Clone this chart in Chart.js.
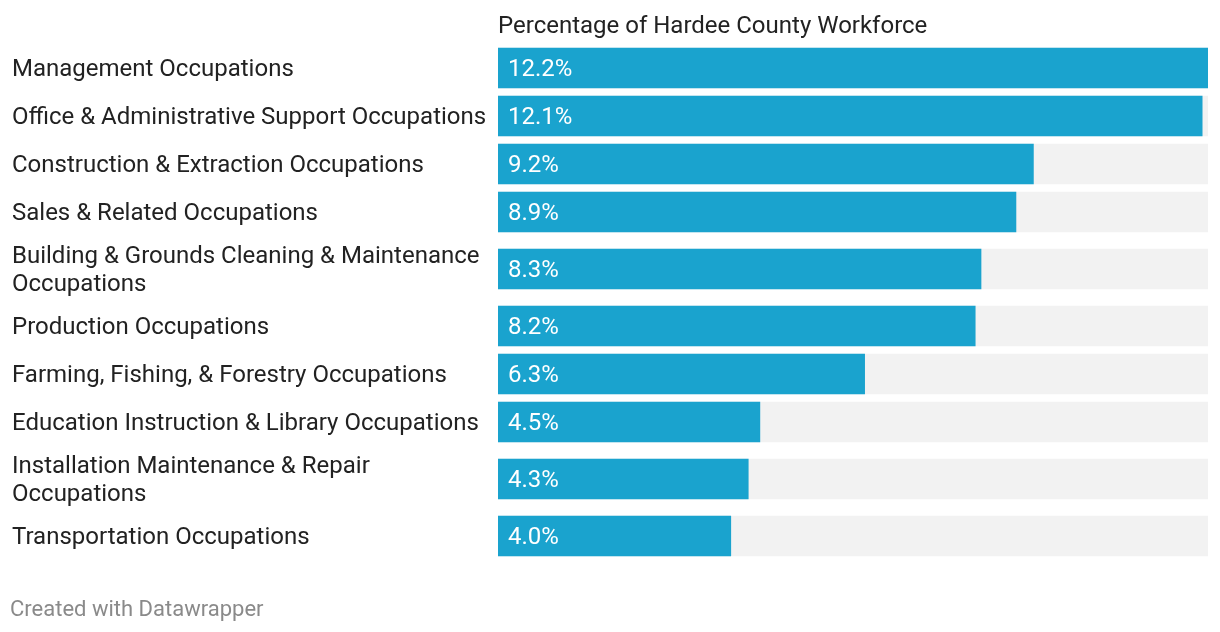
<!DOCTYPE html>
<html>
<head>
<meta charset="utf-8">
<script src="https://cdn.jsdelivr.net/npm/chart.js@4/dist/chart.umd.min.js"></script>
<style>
  html, body { margin: 0; padding: 0; background: #fff; }
  #wrap { position: relative; width: 1220px; height: 632px; }
  #footer { position: absolute; left: 10px; top: 596px; font: 22px Roboto, sans-serif; color: #8a8a8a; }
</style>
</head>
<body>
<div id="wrap">
  <canvas id="c"></canvas>
  <div id="footer">Created with Datawrapper</div>
</div>
<script>
const categories = [
  "Management Occupations",
  "Office & Administrative Support Occupations",
  "Construction & Extraction Occupations",
  "Sales & Related Occupations",
  ["Building & Grounds Cleaning & Maintenance", "Occupations"],
  "Production Occupations",
  "Farming, Fishing, & Forestry Occupations",
  "Education Instruction & Library Occupations",
  ["Installation Maintenance & Repair", "Occupations"],
  "Transportation Occupations"
];
const values = [12.2, 12.1, 9.2, 8.9, 8.3, 8.2, 6.3, 4.5, 4.3, 4.0];
const axisTitle = "Percentage of Hardee County Workforce";

// row slots derived from number of label lines
const lineCount = categories.map(c => Array.isArray(c) ? c.length : 1);
const slots = lineCount.map(n => 48 + (n - 1) * 18);
const centers = [];
let acc = 0;
slots.forEach(s => { centers.push(acc + s / 2); acc += s; });
const total = acc;
const xMax = Math.max(...values);

const valueLabels = {
  id: 'valueLabels',
  afterDatasetsDraw(chart) {
    const ctx = chart.ctx;
    const meta = chart.getDatasetMeta(0);
    ctx.save();
    ctx.font = '24px Roboto';
    ctx.fillStyle = '#ffffff';
    ctx.textBaseline = 'middle';
    ctx.textAlign = 'left';
    meta.data.forEach((bar, i) => {
      ctx.fillText(values[i].toFixed(1) + '%', bar.base + 10, bar.y + 2);
    });
    ctx.restore();
  }
};

new Chart(document.getElementById('c'), {
  type: 'bar',
  data: {
    datasets: [
      {
        data: values.map((v, i) => ({ x: v, y: centers[i] })),
        backgroundColor: '#1aa3ce',
        barThickness: 40,
        grouped: false
      },
      {
        data: values.map((v, i) => ({ x: xMax, y: centers[i] })),
        backgroundColor: '#f2f2f2',
        barThickness: 40,
        grouped: false
      }
    ]
  },
  options: {
    indexAxis: 'y',
    responsive: true,
    maintainAspectRatio: false,
    animation: false,
    layout: { padding: { left: 12, right: 12, top: 0, bottom: 72 } },
    plugins: { legend: { display: false }, tooltip: { enabled: false } },
    scales: {
      x: {
        position: 'top',
        min: 0,
        max: xMax,
        grid: { display: false, drawTicks: false },
        border: { display: false },
        ticks: { display: false },
        title: {
          display: true,
          text: axisTitle,
          align: 'start',
          color: '#222',
          font: { family: 'Roboto', size: 24 },
          padding: { top: 13, bottom: 2 }
        },
        afterFit(scale) { scale.height = 44; scale.paddingLeft = 0; scale.paddingRight = 0; }
      },
      y: {
        type: 'linear',
        reverse: true,
        offset: false,
        min: 0,
        max: total,
        grid: { display: false, drawTicks: false },
        border: { display: false },
        afterBuildTicks(scale) { scale.ticks = centers.map(v => ({ value: v })); },
        afterFit(scale) { scale.width = 486; scale.paddingTop = 0; scale.paddingBottom = 0; },
        ticks: {
          autoSkip: false,
          crossAlign: 'far',
          padding: 0,
          labelOffset: 2,
          color: '#222',
          font: { family: 'Roboto', size: 24, lineHeight: 1.17 },
          callback: (v, i) => categories[i]
        }
      }
    }
  },
  plugins: [valueLabels]
});
</script>
</body>
</html>
